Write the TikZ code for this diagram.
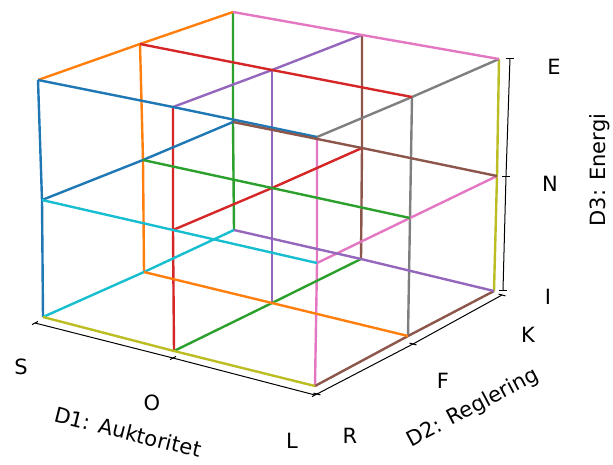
\documentclass[tikz,border=0pt]{standalone}
\usepackage{fontspec}
\setmainfont{DejaVu Sans}
\usetikzlibrary{calc}
\definecolor{c0}{HTML}{1F77B4}
\definecolor{c1}{HTML}{FF7F0E}
\definecolor{c2}{HTML}{2CA02C}
\definecolor{c3}{HTML}{D62728}
\definecolor{c4}{HTML}{9467BD}
\definecolor{c5}{HTML}{8C564B}
\definecolor{c6}{HTML}{E377C2}
\definecolor{c7}{HTML}{7F7F7F}
\definecolor{c8}{HTML}{BCBD22}
\definecolor{c9}{HTML}{17BECF}
\begin{document}
\begin{tikzpicture}[x=1pt,y=-1pt,
  gl/.style={line width=2.4pt,line join=round},
  axl/.style={line width=1pt,black},
  tk/.style={line width=1pt,black},
  lab/.style={font=\fontsize{21}{24}\selectfont,inner sep=0pt}]
\useasboundingbox (0,0) rectangle (613,464);
% vertices: D1 (S,O,L), D2 (R,F,K), D3 (I,N,E)
\coordinate (SRI) at (43,317);
\coordinate (ORI) at (174,351);
\coordinate (LRI) at (315,386);
\coordinate (SFI) at (144,272);
\coordinate (OFI) at (272,303);
\coordinate (LFI) at (408,336);
\coordinate (SKI) at (234,230);
\coordinate (OKI) at (361,259);
\coordinate (LKI) at (494,291);
\coordinate (SRN) at (42,200);
\coordinate (ORN) at (173,230);
\coordinate (LRN) at (317,263);
\coordinate (SFN) at (143,160);
\coordinate (OFN) at (272,188);
\coordinate (LFN) at (410,218);
\coordinate (SKN) at (233,122);
\coordinate (OKN) at (362,148);
\coordinate (LKN) at (497,176);
\coordinate (SRE) at (38,80);
\coordinate (ORE) at (173,107);
\coordinate (LRE) at (317,137);
\coordinate (SFE) at (140,44);
\coordinate (OFE) at (272,70);
\coordinate (LFE) at (412,97);
\coordinate (SKE) at (233,12);
\coordinate (OKE) at (362,35);
\coordinate (LKE) at (499,59);
% D3 lines
\draw[gl,c0] (SRI) -- (SRN) -- (SRE);
\draw[gl,c1] (SFI) -- (SFN) -- (SFE);
\draw[gl,c2] (SKI) -- (SKN) -- (SKE);
\draw[gl,c3] (ORI) -- (ORN) -- (ORE);
\draw[gl,c4] (OFI) -- (OFN) -- (OFE);
\draw[gl,c5] (OKI) -- (OKN) -- (OKE);
\draw[gl,c6] (LRI) -- (LRN) -- (LRE);
\draw[gl,c7] (LFI) -- (LFN) -- (LFE);
\draw[gl,c8] (LKI) -- (LKN) -- (LKE);
% D2 lines
\draw[gl,c9] (SRI) -- (SFI) -- (SKI);
\draw[gl,c0] (SRN) -- (SFN) -- (SKN);
\draw[gl,c1] (SRE) -- (SFE) -- (SKE);
\draw[gl,c2] (ORI) -- (OFI) -- (OKI);
\draw[gl,c3] (ORN) -- (OFN) -- (OKN);
\draw[gl,c4] (ORE) -- (OFE) -- (OKE);
\draw[gl,c5] (LRI) -- (LFI) -- (LKI);
\draw[gl,c6] (LRN) -- (LFN) -- (LKN);
\draw[gl,c7] (LRE) -- (LFE) -- (LKE);
% D1 lines
\draw[gl,c8] (SRI) -- (ORI) -- (LRI);
\draw[gl,c9] (SRN) -- (ORN) -- (LRN);
\draw[gl,c0] (SRE) -- (ORE) -- (LRE);
\draw[gl,c1] (SFI) -- (OFI) -- (LFI);
\draw[gl,c2] (SFN) -- (OFN) -- (LFN);
\draw[gl,c3] (SFE) -- (OFE) -- (LFE);
\draw[gl,c4] (SKI) -- (OKI) -- (LKI);
\draw[gl,c5] (SKN) -- (OKN) -- (LKN);
\draw[gl,c6] (SKE) -- (OKE) -- (LKE);
% axes
\coordinate (aS) at (35,323);
\coordinate (aO) at (173,358);
\coordinate (aL) at (315,395);
\coordinate (aR) at (317,394);
\coordinate (aF) at (413,344);
\coordinate (aK) at (502,295);
\coordinate (aI) at (503,290);
\coordinate (aN) at (506,176);
\coordinate (aE) at (510,58);
\draw[axl] (aS) -- (aO) -- (aL);
\draw[axl] (aR) -- (aF) -- (aK);
\draw[axl] (aI) -- (aN) -- (aE);
\foreach \p in {aS,aO,aL}{\draw[tk] ($(\p)+(-3,1.6)$) -- ($(\p)+(3,-1.6)$);}
\foreach \p in {aR,aF,aK}{\draw[tk] ($(\p)+(-3.5,-0.9)$) -- ($(\p)+(3.5,0.9)$);}
\foreach \p in {aI,aN,aE}{\draw[tk] ($(\p)+(-4,0)$) -- ($(\p)+(4,0)$);}
% tick labels
\node[lab] (tS) at (21,367) {S};
\node[lab] (tO) at (152,403) {O};
\node[lab] (tL) at (292,441) {L};
\node[lab] (tR) at (350,436) {R};
\node[lab] (tF) at (443,381) {F};
\node[lab] (tK) at (528,335) {K};
\node[lab] (tI) at (548,297) {I};
\node[lab] (tN) at (550,184) {N};
\node[lab] (tE) at (554,67) {E};
% axis labels
\node[lab,rotate=-14] (l1) at (128,432) {D1: Auktoritet};
\node[lab,rotate=28] (l2) at (473,408) {D2: Reglering};
\node[lab,rotate=90] (l3) at (600,170) {D3: Energi};
\end{tikzpicture}
\end{document}
